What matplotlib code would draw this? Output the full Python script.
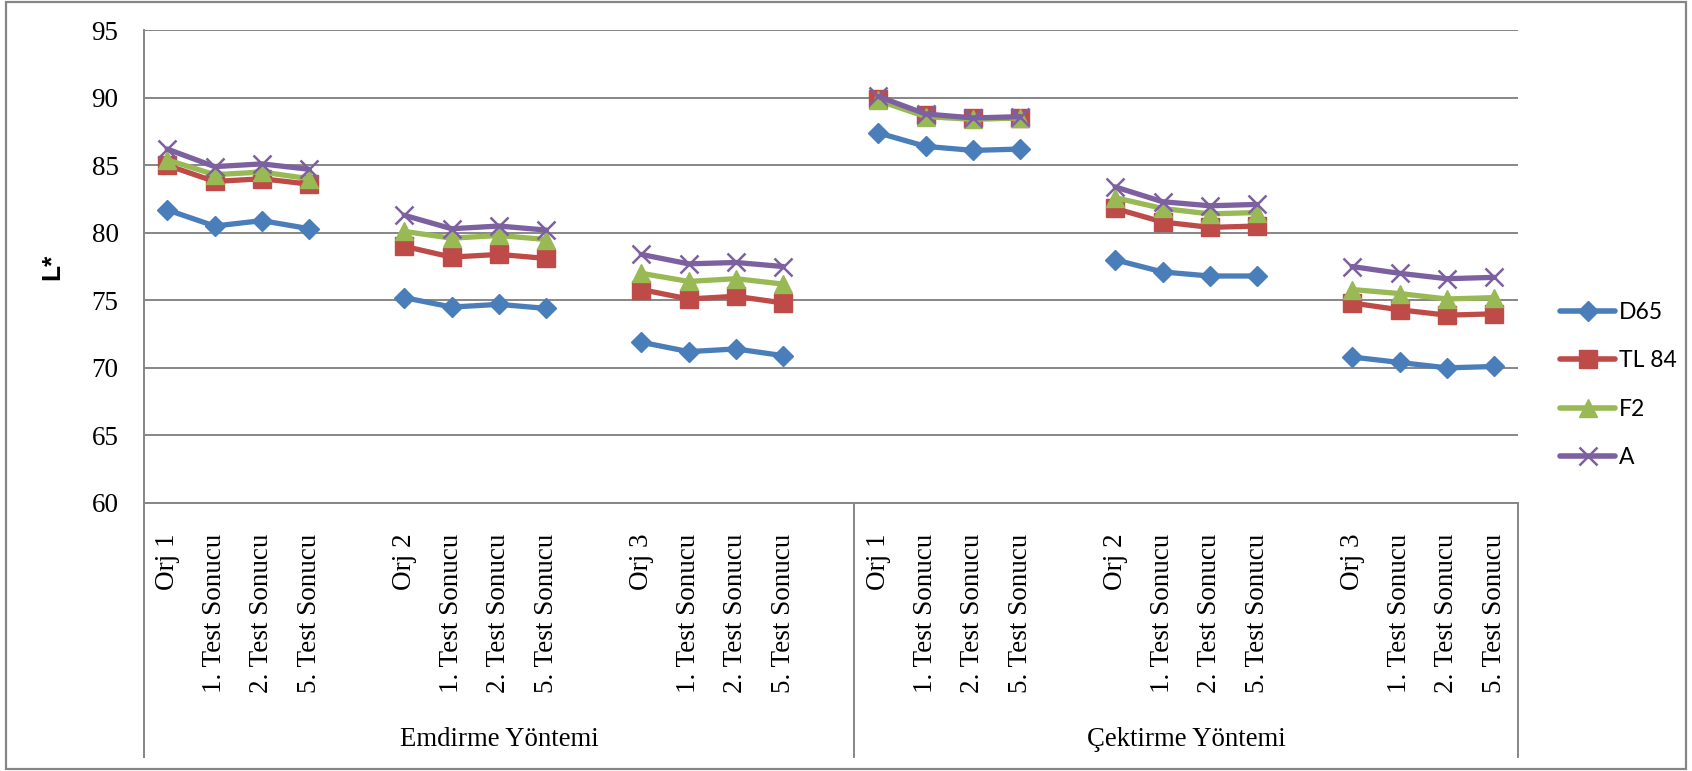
import numpy as np
import matplotlib
matplotlib.use("Agg")
import matplotlib.pyplot as plt
from matplotlib.patches import Rectangle
from matplotlib.lines import Line2D

# ---- data -------------------------------------------------------------
methods = ["Emdirme Yöntemi", "Çektirme Yöntemi"]
samples = ["Orj 1", "Orj 2", "Orj 3"]
tests = ["1. Test Sonucu", "2. Test Sonucu", "5. Test Sonucu"]

series_names = ["D65", "TL 84", "F2", "A"]
d65 = [81.7, 80.5, 80.9, 80.3, 75.2, 74.5, 74.7, 74.4, 71.9, 71.2, 71.4, 70.9,
       87.4, 86.4, 86.1, 86.2, 78.0, 77.1, 76.8, 76.8, 70.8, 70.4, 70.0, 70.1]
tl84 = [85.0, 83.8, 84.0, 83.6, 79.0, 78.2, 78.4, 78.1, 75.8, 75.1, 75.3, 74.8,
        89.9, 88.7, 88.5, 88.5, 81.8, 80.8, 80.4, 80.5, 74.8, 74.3, 73.9, 74.0]
f2 = [85.4, 84.3, 84.5, 84.0, 80.1, 79.6, 79.8, 79.5, 77.0, 76.4, 76.6, 76.2,
      89.8, 88.6, 88.4, 88.5, 82.6, 81.8, 81.4, 81.5, 75.8, 75.5, 75.1, 75.2]
a_ill = [86.2, 84.9, 85.1, 84.7, 81.3, 80.3, 80.5, 80.2, 78.4, 77.7, 77.8, 77.5,
         90.1, 88.8, 88.5, 88.6, 83.4, 82.3, 82.0, 82.1, 77.5, 77.0, 76.6, 76.7]

colors = ["#4A7EBB", "#BE4B48", "#98B954", "#7D60A0"]
markers = ["D", "s", "^", "x"]
msizes = [10.5, 12.5, 13.0, 13.0]

# ---- category layout: one empty slot between consecutive sample groups ----
labels = []
slot_of_value = []
group_no = 0
for m in methods:
    for s in samples:
        if group_no > 0:
            labels.append("")
        for lab in [s] + tests:
            slot_of_value.append(len(labels))
            labels.append(lab)
        group_no += 1
n_slots = len(labels)
n_per_method = len(samples) * (len(tests) + 1) + len(samples)  # incl. trailing blank

def to_slots(vals):
    arr = np.full(n_slots, np.nan)
    arr[slot_of_value] = vals
    return arr

# ---- figure -------------------------------------------------------------
W, H = 1692, 771
fig = plt.figure(figsize=(W / 100, H / 100), dpi=100)
L, R, T, B = 143.5, 1518, 30.2, 502.9
ax = fig.add_axes([L / W, 1 - B / H, (R - L) / W, (B - T) / H])

grid_c = "#868686"
serif = ["Liberation Serif", "DejaVu Serif"]

handles = []
for vals, name, c, mk, ms in zip([d65, tl84, f2, a_ill], series_names, colors, markers, msizes):
    y = to_slots(vals)
    mew = 1.8 if mk == "x" else 1.0
    ax.plot(np.arange(n_slots), y, color=c, lw=3.8, marker=mk, ms=ms,
            mec=c, mfc=c, mew=mew,
            solid_joinstyle="round", solid_capstyle="round", clip_on=False)
    handles.append(Line2D([], [], color=c, lw=4.0, marker=mk, ms=ms, mec=c, mfc=c,
                          mew=mew, solid_capstyle="round"))

ax.set_xlim(-0.5, n_slots - 0.5)
ax.set_ylim(60, 95)
ax.set_yticks(np.arange(60, 96, 5))
ax.yaxis.grid(True, color=grid_c, lw=1.4)
ax.set_axisbelow(True)

for side in ["top", "right"]:
    ax.spines[side].set_visible(False)
for side in ["left", "bottom"]:
    ax.spines[side].set_color(grid_c)
    ax.spines[side].set_linewidth(1.4)

ax.set_xticks(np.arange(n_slots))
ax.set_xticklabels(labels, rotation=90, fontfamily=serif, fontsize=19.5)
ax.tick_params(axis="x", length=0, pad=22)
ax.tick_params(axis="y", length=0, pad=18, labelsize=19.5)
for t in ax.get_yticklabels():
    t.set_fontfamily(serif)

ax.set_ylabel("L*", fontfamily=["Liberation Sans", "DejaVu Sans"], fontweight="bold",
              fontsize=19, labelpad=0)
ax.yaxis.set_label_coords((64 - L) / (R - L), 0.5)

# vertical separators in the category label area
y_low = -(757 - B) / (B - T)
xt = ax.get_xaxis_transform()
for xpos in [-0.5, n_per_method - 0.5, n_slots - 0.5]:
    ax.add_line(Line2D([xpos, xpos], [y_low, 0], transform=xt, color=grid_c,
                       lw=1.4, clip_on=False))

# method labels under each half
y_grp = -(739 - B) / (B - T)
starts = [-0.5, n_per_method - 0.5]
ends = [n_per_method - 0.5, n_slots - 0.5]
for m, s0, s1 in zip(methods, starts, ends):
    ax.text((s0 + s1) / 2, y_grp, m, transform=xt, ha="center", va="center",
            fontfamily=serif, fontsize=19.3)

# legend
fig.legend(handles, series_names, loc="center left",
           bbox_to_anchor=(1560 / W, 1 - 385 / H), frameon=False,
           prop={"family": ["Lato", "DejaVu Sans"], "size": 16.5},
           handlelength=2.4, handletextpad=0.17, labelspacing=1.2,
           borderpad=0, borderaxespad=0)

# outer chart border
fig.patches.append(Rectangle((6 / W, 1 - 769 / H), 1680 / W, 767 / H,
                             transform=fig.transFigure, fill=False,
                             ec=grid_c, lw=1.6))

fig.savefig("out.png", dpi=100)
